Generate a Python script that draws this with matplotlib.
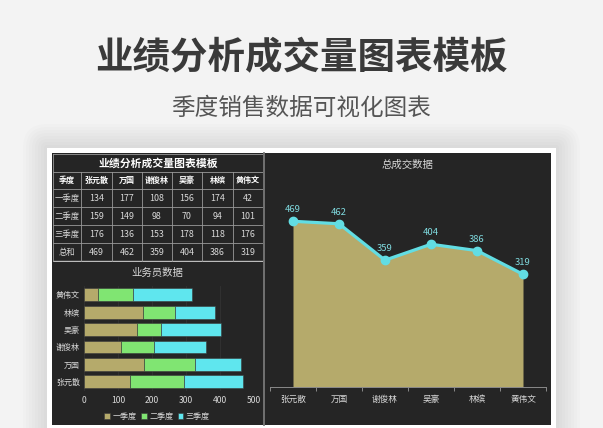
import matplotlib
matplotlib.use("Agg")
import matplotlib.pyplot as plt
import matplotlib.patches as patches
import numpy as np

plt.rcParams['font.family'] = ['Noto Sans CJK SC', 'DejaVu Sans']

# data
names = ['张元散', '万国', '谢俊林', '吴豪', '林缤', '黄伟文']
quarters = ['一季度', '二季度', '三季度']
q1 = [134, 177, 108, 156, 174, 42]
q2 = [159, 149, 98, 70, 94, 101]
q3 = [176, 136, 153, 178, 118, 176]
totals = [469, 462, 359, 404, 386, 319]
row_names = ['一季度', '二季度', '三季度', '总和']
xticks_bar = [0, 100, 200, 300, 400, 500]

W, H = 603, 428
BG = '#f3f3f3'
DARK = '#252525'
KHAKI = '#b5aa6b'
GREEN = '#80e572'
CYAN = '#5fe6ee'
LINE_C = '#62dde3'
TXT = '#d8d8d8'


def rect(l, t, w, h):
    return [l / W, 1 - (t + h) / H, w / W, h / H]


fig = plt.figure(figsize=(6.03, 4.28), dpi=100, facecolor=BG)

# page / panel background
bg = fig.add_axes([0, 0, 1, 1])
bg.set_xlim(0, W)
bg.set_ylim(H, 0)
bg.axis('off')
for i in range(8):
    d = 3 + i * 3
    bg.add_patch(patches.FancyBboxPatch((47 - d, 148 - d), 509 + 2 * d, 300 + 2 * d,
                                        boxstyle="round,pad=0,rounding_size=%d" % d,
                                        fc='#000000', ec='none', alpha=0.012))
bg.add_patch(patches.Rectangle((47, 148), 509, 300, fc='white', ec='none'))
bg.add_patch(patches.Rectangle((52, 153), 499, 272, fc=DARK, ec='none'))
bg.plot([264, 264], [153, 425], color='#777777', lw=1.3)

fig.text(0.5, 1 - 58 / H, '业绩分析成交量图表模板', ha='center', va='center',
         fontsize=27, fontweight='bold', color='#3a3a3a')
fig.text(0.5, 1 - 108 / H, '季度销售数据可视化图表', ha='center', va='center',
         fontsize=17, color='#555555')

# table
tb = fig.add_axes(rect(53, 154, 210, 108))
tb.set_xlim(53, 263)
tb.set_ylim(262, 154)
tb.axis('off')
col_x = [53, 81, 112, 142, 172, 202, 233, 263]
row_y = [154, 172, 189, 207, 225, 243, 261]
gc = '#9a9a9a'
for y in row_y[1:-1]:
    tb.plot([53, 263], [y, y], color=gc, lw=0.6)
tb.plot([53, 263], [261, 261], color='#bbbbbb', lw=1.0)
tb.plot([53, 263], [154, 154], color=gc, lw=0.6)
tb.plot([53, 53], [154, 261], color=gc, lw=0.6)
for x in col_x[1:-1]:
    tb.plot([x, x], [172, 261], color=gc, lw=0.6)
tb.text(158, 163, '业绩分析成交量图表模板', ha='center', va='center',
        fontsize=7.8, fontweight='bold', color='white')
cx = [(col_x[i] + col_x[i + 1]) / 2 for i in range(7)]
cy = [(row_y[i] + row_y[i + 1]) / 2 for i in range(6)]
tb.text(cx[0], cy[1], '季度', ha='center', va='center', fontsize=5.8,
        fontweight='bold', color='white')
for j, n in enumerate(names):
    tb.text(cx[j + 1], cy[1], n, ha='center', va='center', fontsize=5.8,
            fontweight='bold', color='white')
table_rows = [q1, q2, q3, totals]
for i, rn in enumerate(row_names):
    tb.text(cx[0], cy[i + 2], rn, ha='center', va='center', fontsize=6, color=TXT)
    for j, v in enumerate(table_rows[i]):
        tb.text(cx[j + 1], cy[i + 2], str(v), ha='center', va='center',
                fontsize=6.4, color=TXT)

# stacked bar chart
ax = fig.add_axes(rect(84, 286, 170, 104.5))
ax.set_facecolor(DARK)
y = np.arange(len(names))
left2 = np.array(q1)
left3 = left2 + np.array(q2)
ax.barh(y, q1, height=0.74, color=KHAKI, edgecolor='#3a3a3a', lw=0.4, label=quarters[0], zorder=3)
ax.barh(y, q2, left=left2, height=0.74, color=GREEN, edgecolor='#3a3a3a', lw=0.4, label=quarters[1], zorder=3)
ax.barh(y, q3, left=left3, height=0.74, color=CYAN, edgecolor='#3a3a3a', lw=0.4, label=quarters[2], zorder=3)
ax.set_xlim(0, 500)
ax.set_ylim(-0.5, len(names) - 0.5)
ax.set_yticks(y)
ax.set_yticklabels(names, fontsize=5.8, color=TXT)
ax.set_xticks(xticks_bar)
ax.set_xticklabels([str(v) for v in xticks_bar], fontsize=6.2, color=TXT)
ax.tick_params(length=0, pad=3)
ax.tick_params(axis='x', pad=4)
for s in ax.spines.values():
    s.set_visible(False)
ax.grid(axis='x', color='#333333', lw=0.6, zorder=0)
fig.text(157 / W, 1 - 273 / H, '业务员数据', ha='center', va='center',
         fontsize=7.5, color=TXT)
ax.legend(loc='center', bbox_to_anchor=(157 / W, 1 - 416 / H),
          bbox_transform=fig.transFigure, ncol=3, frameon=False, fontsize=5.8,
          labelcolor=TXT, handlelength=0.7, handleheight=0.7, handletextpad=0.3,
          columnspacing=0.6)

# total line / area chart
ax2 = fig.add_axes(rect(270, 175, 276, 212))
ax2.set_facecolor(DARK)
x = np.arange(len(names))
ax2.fill_between(x, totals, 0, color=KHAKI, lw=0, zorder=2)
ax2.plot(x, totals, color=LINE_C, lw=2.3, marker='o', ms=6, zorder=4)
for xi, v in zip(x, totals):
    ax2.annotate(str(v), (xi, v), xytext=(0, 5), textcoords='offset points',
                 ha='center', va='bottom', fontsize=6.8, color='#7fdadf')
ax2.set_xlim(-0.5, len(names) - 0.5)
ax2.set_ylim(0, 600)
ax2.set_xticks(x)
ax2.set_xticklabels(names, fontsize=6.2, color=TXT)
ax2.set_xticks(np.arange(len(names) + 1) - 0.5, minor=True)
ax2.tick_params(axis='x', which='major', length=0, pad=6)
ax2.tick_params(axis='x', which='minor', length=3, color='#8a8a8a', width=0.7)
ax2.set_yticks([])
for k in ['left', 'top', 'right']:
    ax2.spines[k].set_visible(False)
ax2.spines['bottom'].set_color('#8a8a8a')
ax2.spines['bottom'].set_linewidth(0.7)
fig.text(407 / W, 1 - 165 / H, '总成交数据', ha='center', va='center',
         fontsize=7.5, color=TXT)

fig.savefig('out.png', dpi=100, facecolor=BG)
